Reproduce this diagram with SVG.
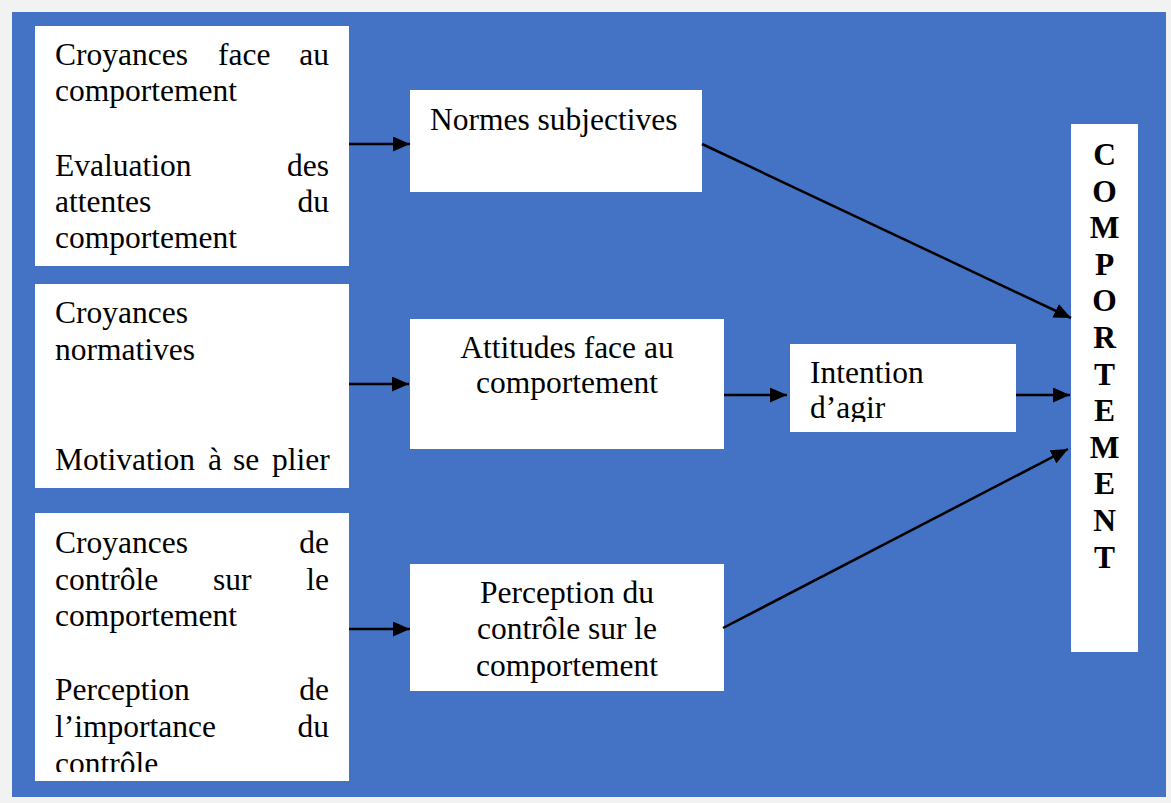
<svg xmlns="http://www.w3.org/2000/svg" width="1171" height="803" viewBox="0 0 1171 803">
<style>
.box{fill:#ffffff;}
.t{font-family:"Liberation Serif","Times New Roman",serif;font-size:31.5px;fill:#000;}
.m{text-anchor:middle;}
.e{text-anchor:end;}
.b{font-weight:bold;text-anchor:middle;}
.c{stroke:#000;stroke-width:2.5;fill:none;marker-end:url(#ah);}
</style>
<defs>
<marker id="ah" markerUnits="userSpaceOnUse" markerWidth="17" markerHeight="15" refX="17" refY="7.5" orient="auto">
<path d="M0,0 L17,7.5 L0,15 z" fill="#000"/>
</marker>
<clipPath id="clip3"><rect x="35" y="513" width="314" height="259"/></clipPath>
<clipPath id="clipI"><rect x="790" y="344" width="226" height="78"/></clipPath>
</defs>
<rect x="0" y="0" width="1171" height="803" fill="#f2f2f2"/>
<rect x="12" y="12" width="1154" height="785" fill="#4472C4"/>

<g id="node-croyances-comportement">
<rect class="box" x="35" y="26" width="314" height="240"/>
<text class="t" x="55" y="65">Croyances</text>
<text class="t" x="218" y="65">face</text>
<text class="t e" x="329" y="65">au</text>
<text class="t" x="55" y="101">comportement</text>
<text class="t" x="55" y="176">Evaluation</text>
<text class="t e" x="329" y="176">des</text>
<text class="t" x="55" y="212">attentes</text>
<text class="t e" x="329" y="212">du</text>
<text class="t" x="55" y="248">comportement</text>
</g>

<g id="node-croyances-normatives">
<rect class="box" x="35" y="284" width="314" height="204"/>
<text class="t" x="55" y="323">Croyances</text>
<text class="t" x="55" y="360">normatives</text>
<text class="t" x="55" y="470">Motivation</text>
<text class="t" x="208" y="470">à</text>
<text class="t" x="233" y="470">se</text>
<text class="t" x="272" y="470">plier</text>
</g>

<g id="node-croyances-controle">
<rect class="box" x="35" y="513" width="314" height="268"/>
<g clip-path="url(#clip3)">
<text class="t" x="55" y="553">Croyances</text>
<text class="t e" x="329" y="553">de</text>
<text class="t" x="55" y="590">contrôle</text>
<text class="t" x="213" y="590">sur</text>
<text class="t e" x="329" y="590">le</text>
<text class="t" x="55" y="626">comportement</text>
<text class="t" x="55" y="700">Perception</text>
<text class="t e" x="329" y="700">de</text>
<text class="t" x="55" y="737">l’importance</text>
<text class="t e" x="329" y="737">du</text>
<text class="t" x="55" y="774">contrôle</text>
</g>
</g>

<g id="node-normes">
<rect class="box" x="410" y="90" width="292" height="102"/>
<text class="t" x="430" y="130">Normes subjectives</text>
</g>

<g id="node-attitudes">
<rect class="box" x="410" y="319" width="314" height="130"/>
<text class="t m" x="567" y="358">Attitudes face au</text>
<text class="t m" x="567" y="393">comportement</text>
</g>

<g id="node-perception">
<rect class="box" x="410" y="564" width="314" height="127"/>
<text class="t m" x="567" y="603">Perception du</text>
<text class="t m" x="567" y="639">contrôle sur le</text>
<text class="t m" x="567" y="676">comportement</text>
</g>

<g id="node-intention">
<rect class="box" x="790" y="344" width="226" height="88"/>
<g clip-path="url(#clipI)">
<text class="t" x="810" y="383">Intention</text>
<text class="t" x="810" y="418">d’agir</text>
</g>
</g>

<g id="node-comportement">
<rect class="box" x="1071" y="124" width="67" height="528"/>
<text class="t b" x="1104.5" y="165">C</text>
<text class="t b" x="1104.5" y="201.6">O</text>
<text class="t b" x="1104.5" y="238.2">M</text>
<text class="t b" x="1104.5" y="274.8">P</text>
<text class="t b" x="1104.5" y="311.4">O</text>
<text class="t b" x="1104.5" y="348">R</text>
<text class="t b" x="1104.5" y="384.6">T</text>
<text class="t b" x="1104.5" y="421.2">E</text>
<text class="t b" x="1104.5" y="457.8">M</text>
<text class="t b" x="1104.5" y="494.4">E</text>
<text class="t b" x="1104.5" y="531">N</text>
<text class="t b" x="1104.5" y="567.6">T</text>
</g>

<g id="connectors">
<line class="c" x1="349" y1="144" x2="410" y2="144"/>
<line class="c" x1="349" y1="384" x2="409" y2="384"/>
<line class="c" x1="349" y1="629" x2="410" y2="629"/>
<line class="c" x1="724" y1="395" x2="787" y2="395"/>
<line class="c" x1="1016" y1="395" x2="1070" y2="395"/>
<line class="c" x1="702" y1="144" x2="1071" y2="318"/>
<line class="c" x1="723" y1="628" x2="1068" y2="449"/>
</g>
</svg>
